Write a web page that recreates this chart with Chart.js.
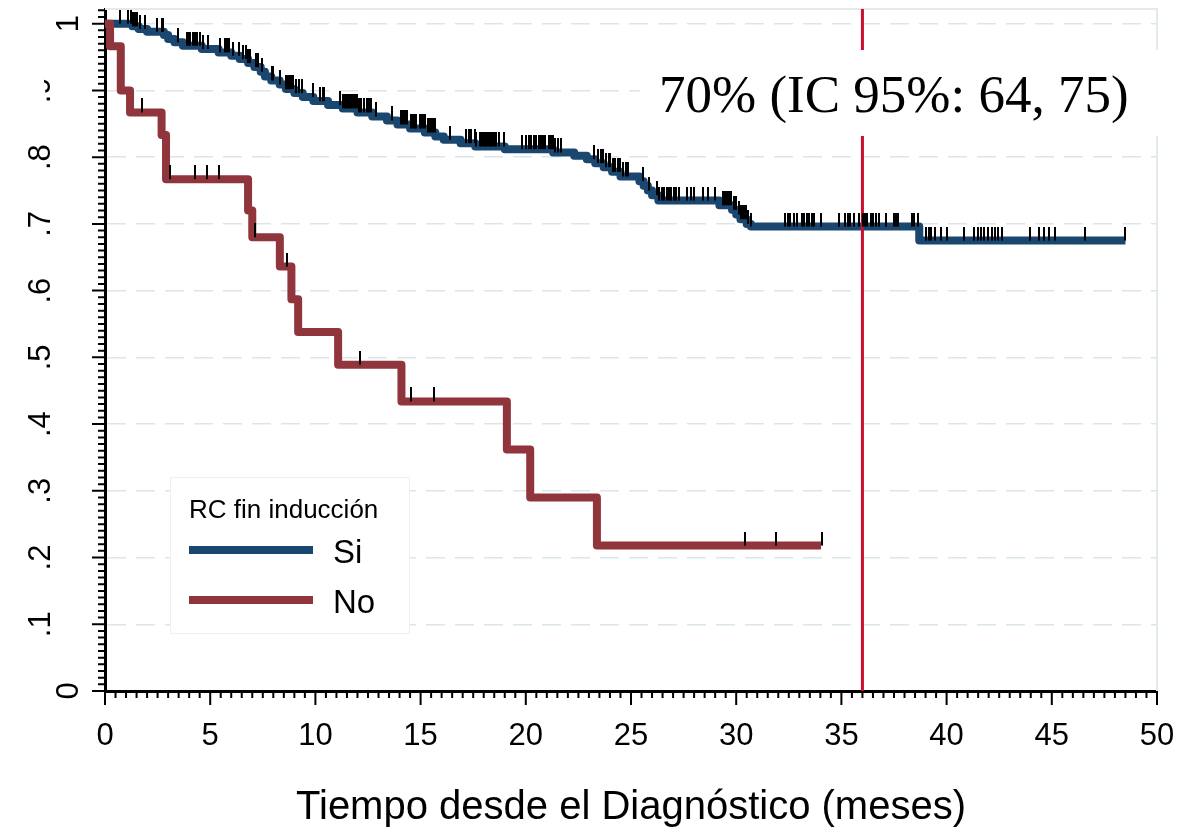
<!DOCTYPE html>
<html>
<head>
<meta charset="utf-8">
<script src="https://cdn.jsdelivr.net/npm/chart.js@4.4.0/dist/chart.umd.min.js"></script>
<style>
  html, body { margin: 0; padding: 0; background: #fff; }
  #wrap { width: 1181px; height: 832px; }
</style>
</head>
<body>
<div id="wrap"><canvas id="kmChart" width="1181" height="832"></canvas></div>
<script>
// axis ticks
const xTickVals = [0, 5, 10, 15, 20, 25, 30, 35, 40, 45, 50];
const yTickVals = [0, 0.1, 0.2, 0.3, 0.4, 0.5, 0.6, 0.7, 0.8, 0.9, 1];
const yTickText = ['0', '.1', '.2', '.3', '.4', '.5', '.6', '.7', '.8', '.9', '1'];

// RC fin induccion = Si (months, survival after the step)
const siTime = [0, 1.3, 1.6, 2.0, 2.8, 3.0, 3.3, 3.7, 4.6, 5.4, 6.0, 6.4, 6.8, 7.1, 7.4, 7.6, 7.9, 8.3, 8.6, 9.0,
  9.4, 9.9, 10.6, 11.3, 12.0, 12.7, 13.4, 13.9, 14.5, 15.2, 15.7, 16.1, 16.9, 17.6, 19.0, 21.3, 22.3, 22.9,
  23.3, 23.7, 24.1, 24.5, 25.4, 25.6, 25.8, 26.0, 26.3, 29.2, 29.8, 30.0, 30.2, 30.5, 30.7, 38.7, 48.5];
const siSurv = [1, 0.996, 0.992, 0.988, 0.983, 0.977, 0.972, 0.967, 0.962, 0.957, 0.952, 0.947, 0.941, 0.935,
  0.928, 0.921, 0.915, 0.909, 0.902, 0.896, 0.890, 0.884, 0.878, 0.873, 0.867, 0.861, 0.855, 0.849, 0.843,
  0.837, 0.831, 0.826, 0.821, 0.816, 0.812, 0.807, 0.802, 0.797, 0.791, 0.785, 0.778, 0.771, 0.764, 0.757,
  0.750, 0.743, 0.735, 0.728, 0.721, 0.714, 0.707, 0.700, 0.696, 0.675, 0.675];
const siCensor = [0.71, 1.11, 1.22, 1.32, 1.42, 1.53, 1.66, 1.90, 2.45, 2.69, 2.77, 3.48, 3.88, 3.96, 4.04, 4.16,
  4.27, 4.38, 4.51, 4.67, 4.90, 5.46, 5.70, 5.78, 5.90, 6.09, 6.38, 6.57, 6.70, 6.80, 6.89, 7.20, 7.28, 7.44,
  7.92, 7.99, 8.31, 8.60, 8.66, 8.75, 8.86, 8.94, 9.10, 9.21, 9.34, 9.89, 10.21, 10.34, 10.40, 11.19, 11.32,
  11.40, 11.48, 11.55, 11.63, 11.71, 11.79, 11.87, 11.98, 12.08, 12.19, 12.30, 12.43, 12.55, 12.62, 12.90,
  13.66, 14.09, 14.16, 14.25, 14.33, 14.56, 14.64, 14.72, 14.80, 14.96, 15.04, 15.11, 15.19, 15.35, 15.43,
  15.51, 15.59, 15.67, 16.41, 17.17, 17.30, 17.41, 17.57, 17.65, 17.81, 17.89, 17.96, 18.04, 18.12, 18.20,
  18.28, 18.36, 18.44, 18.52, 18.60, 18.72, 18.95, 19.83, 20.02, 20.15, 20.26, 20.37, 20.50, 20.62, 20.74,
  20.81, 20.89, 21.10, 21.21, 21.29, 21.41, 21.52, 21.69, 23.22, 23.42, 23.58, 23.69, 23.82, 23.95, 24.01,
  24.14, 24.26, 24.37, 24.49, 24.61, 24.74, 24.85, 25.59, 25.85, 26.22, 26.35, 26.48, 26.59, 26.70, 26.80,
  26.91, 27.02, 27.15, 27.26, 27.65, 27.86, 28.01, 28.41, 28.65, 28.97, 29.36, 29.44, 29.52, 29.60, 29.68,
  29.76, 29.91, 29.99, 30.15, 30.23, 30.31, 30.39, 30.47, 30.55, 30.71, 32.34, 32.45, 32.56, 32.76, 32.87,
  33.13, 33.24, 33.35, 33.48, 33.60, 33.71, 34.03, 34.90, 35.19, 35.30, 35.41, 35.61, 35.85, 36.01, 36.13,
  36.24, 36.40, 36.48, 36.64, 36.77, 37.12, 37.51, 37.59, 37.67, 38.35, 38.46, 38.62, 39.02, 39.14, 39.25,
  39.46, 39.73, 40.04, 40.84, 41.31, 41.47, 41.63, 41.79, 41.99, 42.15, 42.31, 42.46, 42.63, 43.96, 44.40,
  44.63, 44.87, 45.16, 46.58, 48.48];

// RC fin induccion = No
const noTime = [0, 0.24, 0.75, 1.19, 2.69, 2.90, 6.80, 7.00, 8.31, 8.86, 9.18, 11.08, 14.09, 19.10, 20.21, 23.38, 34.03];
const noSurv = [1, 0.966, 0.900, 0.867, 0.833, 0.767, 0.720, 0.680, 0.636, 0.587, 0.538, 0.489, 0.434, 0.362, 0.290, 0.218, 0.218];
const noCensor = [1.74, 3.09, 4.27, 4.86, 5.41, 7.12, 8.63, 12.11, 14.53, 15.62, 30.44, 31.89, 34.08];

const refMonth = 36;
const groupNames = ['Si', 'No'];
const legendTitle = 'RC fin inducción';
const noteText = '70% (IC 95%: 64, 75)';
const xTitle = 'Tiempo desde el Diagnóstico (meses)';

const SANS = "'Liberation Sans', Arial, sans-serif";
const SERIF = "'Liberation Serif', 'Times New Roman', serif";
const yTop = 1.022;

function toPoints(times, survs) {
  return times.map((t, i) => ({ x: t, y: survs[i] }));
}

function survAt(times, survs, t) {
  let s = survs[0];
  for (let i = 0; i < times.length; i++) {
    if (times[i] <= t) s = survs[i];
  }
  return s;
}

function censorPoints(cens, times, survs) {
  return cens.map(t => ({ x: t, y: survAt(times, survs, t) }));
}

// small vertical spike that sits on top of the curve
function censorMark() {
  const c = document.createElement('canvas');
  c.width = 2;
  c.height = 28;
  const g = c.getContext('2d');
  g.fillStyle = '#000';
  g.fillRect(0, 0, 2, 14);
  return c;
}
const mark = censorMark();

const axisDecor = {
  id: 'axisDecor',
  beforeDatasetsDraw(chart) {
    const { ctx, chartArea: a } = chart;
    ctx.save();
    ctx.strokeStyle = '#E2E9EF';
    ctx.lineWidth = 2;
    ctx.beginPath();
    ctx.moveTo(a.left, a.top);
    ctx.lineTo(a.right, a.top);
    ctx.lineTo(a.right, a.bottom);
    ctx.stroke();
    ctx.restore();
  },
  afterDatasetsDraw(chart) {
    const { ctx, chartArea: a } = chart;
    const xs = chart.scales.x, ys = chart.scales.y;
    ctx.save();

    // note box over the reference line
    ctx.fillStyle = '#fff';
    ctx.fillRect(640, 50, 520, 86);
    ctx.fillStyle = '#000';
    ctx.font = '53px ' + SERIF;
    ctx.textAlign = 'left';
    ctx.textBaseline = 'alphabetic';
    ctx.fillText(noteText, 659, 112);

    // legend
    ctx.fillStyle = '#fff';
    ctx.fillRect(170, 477, 239, 156);
    ctx.strokeStyle = '#EEF1F4';
    ctx.lineWidth = 1;
    ctx.strokeRect(170.5, 477.5, 239, 156);
    ctx.fillStyle = '#000';
    ctx.font = '26px ' + SANS;
    ctx.fillText(legendTitle, 189, 518);
    const ds = chart.data.datasets;
    [0, 1].forEach(i => {
      const yy = 550 + i * 50;
      ctx.strokeStyle = ds[i].borderColor;
      ctx.lineWidth = 8;
      ctx.lineCap = 'butt';
      ctx.beginPath();
      ctx.moveTo(189, yy);
      ctx.lineTo(313, yy);
      ctx.stroke();
      ctx.fillStyle = '#000';
      ctx.font = '33px ' + SANS;
      ctx.fillText(groupNames[i], 333, yy + 13);
    });

    // axis ticks
    ctx.strokeStyle = '#000';
    ctx.lineWidth = 2;
    ctx.beginPath();
    for (let k = 0; k <= 102; k++) {
      const py = ys.getPixelForValue(k / 100);
      const major = k % 10 === 0 && k <= 100;
      ctx.moveTo(major ? 92 : 98, py);
      ctx.lineTo(a.left, py);
    }
    for (let k = 0; k <= 100; k++) {
      const px = xs.getPixelForValue(k / 2);
      const major = k % 10 === 0;
      ctx.moveTo(px, a.bottom);
      ctx.lineTo(px, a.bottom + (major ? 14 : 7));
    }
    ctx.stroke();

    // tick labels
    ctx.fillStyle = '#000';
    ctx.font = '31px ' + SANS;
    ctx.textAlign = 'center';
    ctx.textBaseline = 'alphabetic';
    xTickVals.forEach(v => {
      ctx.fillText(String(v), xs.getPixelForValue(v), 745);
    });
    yTickVals.forEach((v, i) => {
      const txt = yTickText[i];
      const bx = txt.startsWith('.') ? 50 : 78;
      ctx.save();
      if (txt === '.9') {
        ctx.beginPath();
        ctx.rect(44, 0, 40, 200);
        ctx.clip();
      }
      ctx.translate(bx, ys.getPixelForValue(v));
      ctx.rotate(-Math.PI / 2);
      ctx.fillText(txt, 0, 0);
      ctx.restore();
    });

    // axis title
    ctx.font = '40px ' + SANS;
    ctx.fillText(xTitle, (a.left + a.right) / 2, 819);
    ctx.restore();
  }
};

new Chart(document.getElementById('kmChart'), {
  type: 'line',
  data: {
    datasets: [
      {
        label: groupNames[0],
        data: toPoints(siTime, siSurv),
        borderColor: '#1A476F',
        borderWidth: 8,
        stepped: true,
        pointRadius: 0,
        borderJoinStyle: 'round',
        fill: false,
        clip: 0,
        order: 3
      },
      {
        label: groupNames[1],
        data: toPoints(noTime, noSurv),
        borderColor: '#90353B',
        borderWidth: 8,
        stepped: true,
        pointRadius: 0,
        borderJoinStyle: 'round',
        fill: false,
        clip: 0,
        order: 2
      },
      {
        label: 'ref',
        data: [{ x: refMonth, y: 0 }, { x: refMonth, y: yTop }],
        borderColor: '#C8102E',
        borderWidth: 3,
        pointRadius: 0,
        fill: false,
        order: 1
      },
      {
        label: 'censor Si',
        data: censorPoints(siCensor, siTime, siSurv),
        showLine: false,
        pointStyle: mark,
        pointRadius: 3,
        clip: false,
        order: 0
      },
      {
        label: 'censor No',
        data: censorPoints(noCensor, noTime, noSurv),
        showLine: false,
        pointStyle: mark,
        pointRadius: 3,
        clip: false,
        order: 0
      }
    ]
  },
  options: {
    responsive: false,
    animation: false,
    devicePixelRatio: 1,
    events: [],
    layout: { padding: { top: 9, right: 24, left: 0, bottom: 0 } },
    plugins: { legend: { display: false }, tooltip: { enabled: false } },
    scales: {
      x: {
        type: 'linear',
        min: 0,
        max: 50,
        ticks: { display: false, stepSize: 5 },
        grid: { display: false, drawTicks: false },
        border: { display: true, color: '#000', width: 3 },
        afterFit(scale) { scale.height = 141; }
      },
      y: {
        type: 'linear',
        min: 0,
        max: yTop,
        ticks: { display: false, stepSize: 0.1, includeBounds: false },
        grid: {
          drawTicks: false,
          lineWidth: 1.5,
          color: c => (c.tick && c.tick.value === 0 ? 'rgba(0,0,0,0)' : '#DCE5EC')
        },
        border: { display: true, color: '#000', width: 3, dash: [19, 10] },
        afterFit(scale) { scale.width = 105; }
      }
    }
  },
  plugins: [axisDecor]
});
</script>
</body>
</html>
